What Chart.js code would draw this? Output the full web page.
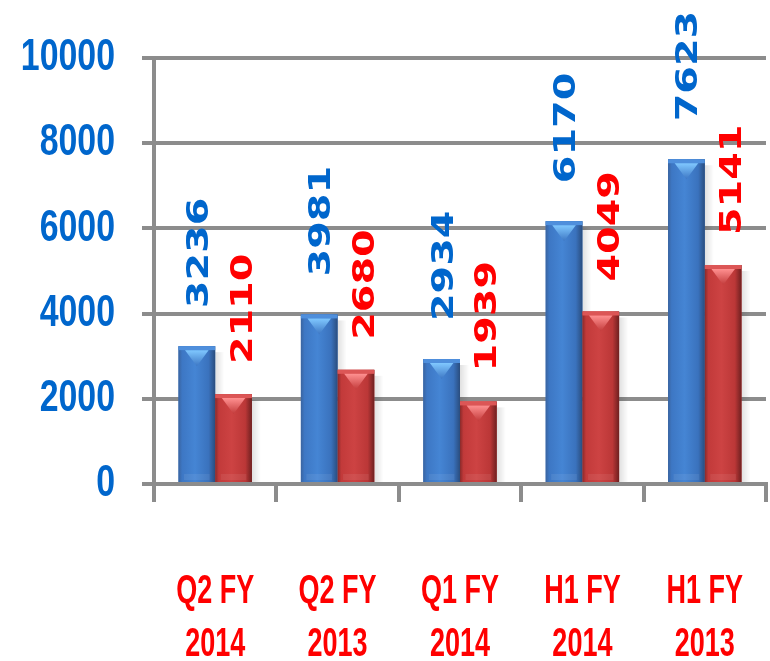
<!DOCTYPE html>
<html>
<head>
<meta charset="utf-8">
<script src="https://cdn.jsdelivr.net/npm/chart.js@4/dist/chart.umd.min.js"></script>
<style>
  html, body { margin: 0; padding: 0; background: #ffffff; }
  #chart { display: block; }
</style>
</head>
<body>
<canvas id="chart" width="770" height="661"></canvas>
<script>
// Period labels (two lines each)
const categories = [
  ['Q2 FY', '2014'],
  ['Q2 FY', '2013'],
  ['Q1 FY', '2014'],
  ['H1 FY', '2014'],
  ['H1 FY', '2013']
];
// Blue and red series values
const blueValues = [3236, 3981, 2934, 6170, 7623];
const redValues = [2110, 2680, 1939, 4049, 5141];
// Value axis range
const yMin = 0;
const yMax = 10000;
const yStep = 2000;

const GRID = '#8c8c8c';
const AXIS_FONT = "'Liberation Sans', Arial, sans-serif";

// Horizontal squeeze applied to tick labels, per axis (narrow bold lettering)
const LABEL_SQUEEZE = { x: 0.675, y: 0.77 };

function drawSqueezedLabels(scale) {
  const opts = scale.options.ticks;
  if (!opts.display) return;
  const sx = LABEL_SQUEEZE[scale.id] || 1;
  const ctx = scale.ctx;
  const items = scale.getLabelItems(scale.chart.chartArea);
  for (const item of items) {
    const o = item.options;
    const f = item.font;
    ctx.save();
    ctx.translate(o.translation[0], o.translation[1]);
    if (o.rotation) ctx.rotate(o.rotation);
    ctx.scale(sx, 1);
    ctx.font = f.string;
    ctx.fillStyle = o.color;
    ctx.textAlign = o.textAlign;
    ctx.textBaseline = o.textBaseline;
    const lines = Array.isArray(item.label) ? item.label : [item.label];
    let y = item.textOffset;
    for (const line of lines) {
      ctx.fillText(String(line), 0, y);
      y += f.lineHeight;
    }
    ctx.restore();
  }
}

class NarrowCategoryScale extends Chart.CategoryScale {
  drawLabels() { drawSqueezedLabels(this); }
}
NarrowCategoryScale.id = 'narrowCategory';
NarrowCategoryScale.defaults = Chart.CategoryScale.defaults;

class NarrowLinearScale extends Chart.LinearScale {
  drawLabels() { drawSqueezedLabels(this); }
}
NarrowLinearScale.id = 'narrowLinear';
NarrowLinearScale.defaults = Chart.LinearScale.defaults;

Chart.register(NarrowCategoryScale, NarrowLinearScale);

const palettes = [
  { edgeL: '#3a64a0', mid: '#3d77c4', light: '#4585d4', mid2: '#3a72bd', edgeR: '#2a4d7e',
    cap: '#4f8fdc', tri: '#80c8ff', text: '#0066cc' },
  { edgeL: '#8a2a2a', mid: '#c23a3a', light: '#cd4343', mid2: '#bb3737', edgeR: '#6e2020',
    cap: '#dc5656', tri: '#ff9090', text: '#ff0000' }
];

// Gives every bar a rounded, lit look and a soft shadow on its right
const barShading = {
  id: 'barShading',
  beforeDatasetsDraw(chart) {
    const ctx = chart.ctx;
    ctx.save();
    chart.data.datasets.forEach((ds, di) => {
      const meta = chart.getDatasetMeta(di);
      meta.data.forEach((el) => {
        const { y, base, x, width } = el.getProps(['x', 'y', 'base', 'width'], true);
        const r = x + width / 2;
        const g = ctx.createLinearGradient(r, 0, r + 9, 0);
        g.addColorStop(0, 'rgba(0,0,0,0.12)');
        g.addColorStop(1, 'rgba(0,0,0,0)');
        ctx.fillStyle = g;
        ctx.fillRect(r, y + 6, 9, base - y - 6);
      });
    });
    ctx.restore();
  },
  afterDatasetsDraw(chart) {
    const ctx = chart.ctx;
    ctx.save();
    chart.data.datasets.forEach((ds, di) => {
      const pal = palettes[di];
      const meta = chart.getDatasetMeta(di);
      meta.data.forEach((el) => {
        const { x, y, base, width } = el.getProps(['x', 'y', 'base', 'width'], true);
        const l = x - width / 2, r = x + width / 2, h = base - y;
        const g = ctx.createLinearGradient(l, 0, r, 0);
        g.addColorStop(0, pal.edgeL);
        g.addColorStop(0.1, pal.mid);
        g.addColorStop(0.45, pal.light);
        g.addColorStop(0.82, pal.mid2);
        g.addColorStop(1, pal.edgeR);
        ctx.fillStyle = g;
        ctx.fillRect(l, y, width, h);
        // faint lighter band near the floor
        ctx.fillStyle = 'rgba(255,255,255,0.07)';
        ctx.fillRect(l + width * 0.15, base - 8, width * 0.7, 6);
        // top rim
        ctx.fillStyle = pal.cap;
        ctx.fillRect(l, y, width, 4);
        // highlight wedge under the rim
        const tg = ctx.createLinearGradient(0, y + 4, 0, y + 20);
        tg.addColorStop(0, pal.tri);
        tg.addColorStop(1, pal.mid);
        ctx.fillStyle = tg;
        ctx.beginPath();
        ctx.moveTo(l + width * 0.18, y + 4);
        ctx.lineTo(r - width * 0.18, y + 4);
        ctx.lineTo(x, y + 20);
        ctx.closePath();
        ctx.fill();
      });
    });
    ctx.restore();
  }
};

// Rotated value labels above each bar, drawn from the bar's own value
const valueLabels = {
  id: 'valueLabels',
  afterDatasetsDraw(chart) {
    const ctx = chart.ctx;
    const gaps = [38, 30];
    const shifts = [3, 10];
    ctx.save();
    ctx.font = "bold 31px 'DejaVu Sans', sans-serif";
    ctx.textAlign = 'left';
    ctx.textBaseline = 'middle';
    chart.data.datasets.forEach((ds, di) => {
      const meta = chart.getDatasetMeta(di);
      ctx.fillStyle = palettes[di].text;
      meta.data.forEach((el, i) => {
        const { x, y } = el.getProps(['x', 'y'], true);
        ctx.save();
        ctx.translate(x + shifts[di], y - gaps[di]);
        ctx.rotate(-Math.PI / 2);
        ctx.scale(1.28, 1);
        ctx.fillText(String(ds.data[i]), 0, 0);
        ctx.restore();
      });
    });
    ctx.restore();
  }
};

new Chart(document.getElementById('chart'), {
  type: 'bar',
  data: {
    labels: categories,
    datasets: [
      { label: 'Series A', data: blueValues, backgroundColor: '#3d77c4', borderWidth: 0 },
      { label: 'Series B', data: redValues, backgroundColor: '#c23a3a', borderWidth: 0 }
    ]
  },
  options: {
    responsive: false,
    animation: false,
    events: [],
    layout: { padding: { top: 58, right: 4, left: 0, bottom: 0 } },
    plugins: { legend: { display: false }, tooltip: { enabled: false } },
    datasets: { bar: { categoryPercentage: 0.6, barPercentage: 1.0 } },
    scales: {
      x: {
        type: 'narrowCategory',
        grid: { display: true, drawOnChartArea: false, drawTicks: true, tickLength: 18,
                offset: true, color: GRID, lineWidth: 4 },
        border: { display: true, color: GRID, width: 4 },
        ticks: { color: '#ff0000', padding: 63, maxRotation: 0, autoSkip: false,
                 font: { family: AXIS_FONT, size: 40, weight: 'bold', lineHeight: 1.325 } },
        afterFit(scale) {
          scale.height = 177;
          scale.paddingLeft = 0;
          scale.paddingRight = 0;
        }
      },
      y: {
        type: 'narrowLinear',
        min: yMin, max: yMax,
        grid: { color: GRID, lineWidth: 4, drawTicks: true, tickLength: 12 },
        border: { display: true, color: GRID, width: 4 },
        ticks: { stepSize: yStep, color: '#0066cc', padding: 27,
                 callback: (v) => String(v),
                 font: { family: AXIS_FONT, size: 44, weight: 'bold' } },
        afterFit(scale) {
          scale.width = 154;
          scale.paddingTop = 0;
          scale.paddingBottom = 0;
        }
      }
    }
  },
  plugins: [barShading, valueLabels]
});
</script>
</body>
</html>
